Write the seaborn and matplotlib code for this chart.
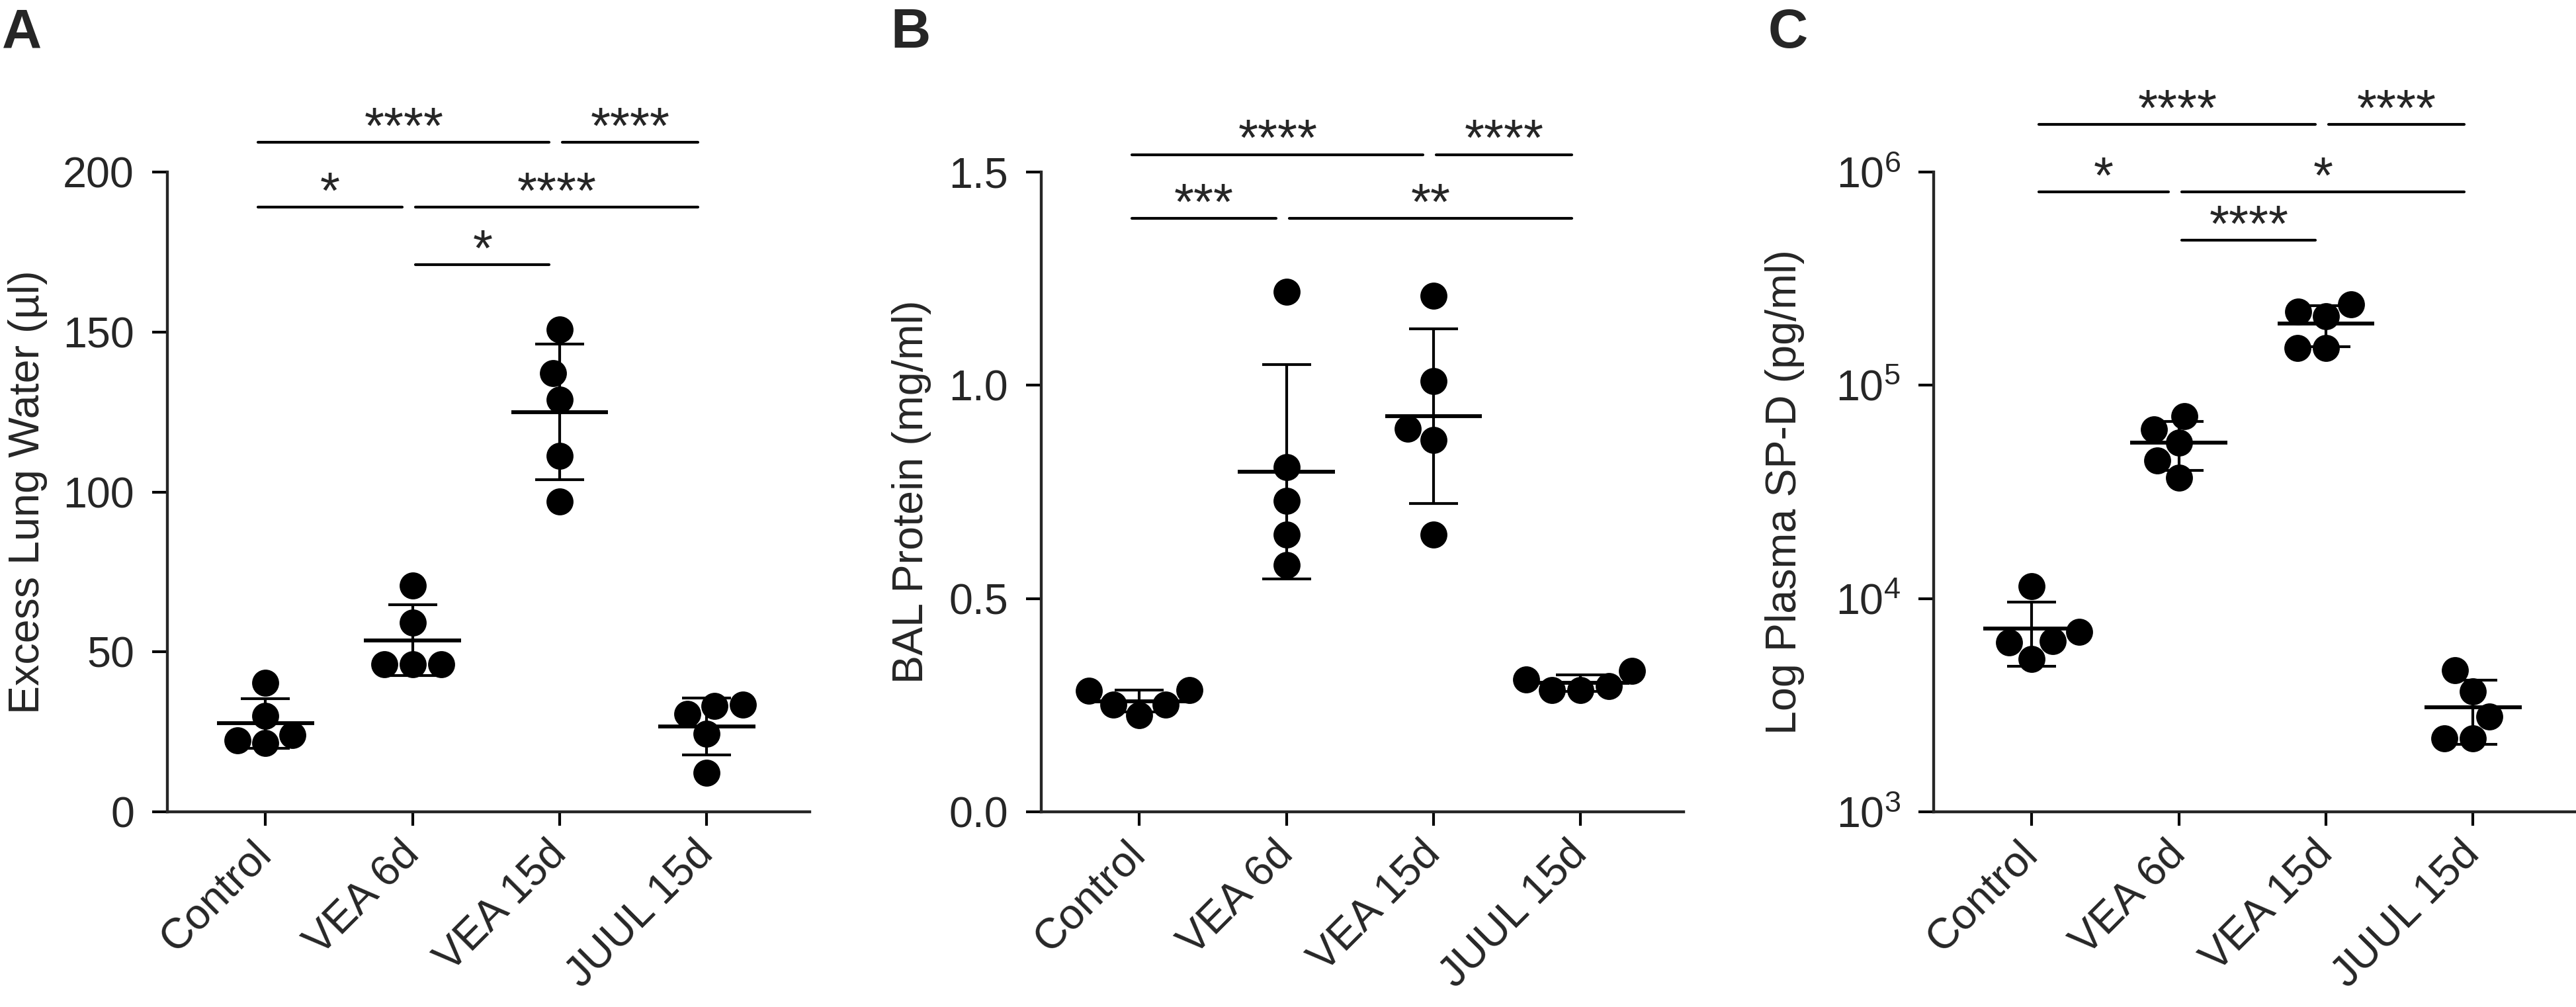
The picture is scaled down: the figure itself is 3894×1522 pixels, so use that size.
import numpy as np
import pandas as pd
import matplotlib.pyplot as plt
import seaborn as sns
from matplotlib.ticker import NullLocator

# group names shared by all three panels
groups = ['Control', 'VEA 6d', 'VEA 15d', 'JUUL 15d']

# A - excess lung water (ul), five mice per group
water_control = [30.0, 40.3, 21.5, 24.0, 22.3]
water_vea6 = [70.8, 59.2, 46.1, 46.1, 46.1]
water_vea15 = [150.7, 137.1, 128.9, 111.2, 96.9]
water_juul = [33.1, 33.5, 30.6, 24.4, 12.2]

# B - BAL protein (mg/ml)
protein_control = [0.284, 0.286, 0.251, 0.251, 0.227]
protein_vea6 = [1.22, 0.808, 0.729, 0.650, 0.579]
protein_vea15 = [1.21, 1.01, 0.898, 0.871, 0.650]
protein_juul = [0.286, 0.331, 0.295, 0.311, 0.286]

# C - plasma SP-D (pg/ml)
spd_control = [11400, 7000, 6310, 6210, 5200]
spd_vea6 = [71900, 54000, 36800, 62100, 44400]
spd_vea15 = [221500, 239700, 210400, 149600, 149600]
spd_juul = [4610, 3680, 2800, 2210, 2210]

# significance comparisons (group i, group j, label)
water_comps = [(0, 2, '****'), (2, 3, '****'), (0, 1, '*'), (1, 3, '****'), (1, 2, '*')]
protein_comps = [(0, 2, '****'), (2, 3, '****'), (0, 1, '***'), (1, 3, '**')]
spd_comps = [(0, 2, '****'), (2, 3, '****'), (0, 1, '*'), (1, 3, '*'), (1, 2, '****')]

sns.set_style('ticks')
plt.rcParams['font.family'] = ['Liberation Sans', 'DejaVu Sans']
plt.rcParams['mathtext.default'] = 'regular'
plt.rcParams['axes.linewidth'] = 1.05

W, H = 3895, 1522
fig = plt.figure(figsize=(W / 300, H / 300), dpi=300)


def make_axes(left_px):
    return fig.add_axes([left_px / W, (H - 1227) / H, 971 / W, 967 / H])


def draw_panel(ax, values, ylabel, comps, levels, ylim, log=False, lpad=-0.05, label_x=-0.186):
    df = pd.DataFrame({'group': np.repeat(groups, [len(v) for v in values]),
                       'value': np.concatenate(values)})
    if log:
        ax.set_yscale('log')
    sns.swarmplot(data=df, x='group', y='value', order=groups, color='black',
                  size=9.8, linewidth=0, ax=ax, zorder=3, warn_thresh=1.0)

    # mean +/- SD
    x = np.arange(len(groups))
    means = np.array([np.mean(v) for v in values])
    sds = np.array([np.std(v, ddof=1) for v in values])
    ax.hlines(means, x - 0.33, x + 0.33, color='black', lw=1.4, zorder=4)
    ax.vlines(x, means - sds, means + sds, color='black', lw=1.0, zorder=4)
    ax.hlines(means + sds, x - 0.167, x + 0.167, color='black', lw=1.0, zorder=4)
    ax.hlines(means - sds, x - 0.167, x + 0.167, color='black', lw=1.0, zorder=4)

    ax.set_xlim(-0.667, 3.70)
    ax.set_ylim(*ylim)
    if log:
        ax.yaxis.set_minor_locator(NullLocator())
    sns.despine(ax=ax)

    ax.set_xticks(x)
    ax.set_xticklabels(groups, rotation=45, ha='right', va='center', rotation_mode='anchor')
    ax.set_xlabel('')
    ax.set_ylabel(ylabel, fontsize=15.5)
    ax.yaxis.set_label_coords(label_x, 0.5)
    ax.tick_params(axis='y', length=5.5, width=1.0, pad=6.5, labelsize=15.5, color='black')
    ax.tick_params(axis='x', length=5.0, width=1.0, pad=8, labelsize=15.5, color='black')

    # significance brackets
    for (i, j, txt), y in zip(comps, levels):
        left = i + (lpad if i == 0 else 0.02)
        right = j - (0.07 if j < 3 else 0.06)
        ax.plot([left, right], [y, y], color='black', lw=1.0, clip_on=False)
        ax.annotate(txt, xy=((left + right) / 2, y), xytext=(0, -0.3),
                    textcoords='offset points', ha='center', va='baseline',
                    fontsize=18.5, annotation_clip=False)


ax_a = make_axes(253)
draw_panel(ax_a, [water_control, water_vea6, water_vea15, water_juul],
           'Excess Lung Water (µl)', water_comps,
           [209.3, 209.3, 189, 189, 171], (0, 200), label_x=-0.186)
ax_a.set_yticks([0, 50, 100, 150, 200])

ax_b = make_axes(1574)
draw_panel(ax_b, [protein_control, protein_vea6, protein_vea15, protein_juul],
           'BAL Protein (mg/ml)', protein_comps,
           [1.541, 1.541, 1.391, 1.391], (0, 1.5), label_x=-0.171)
ax_b.set_yticks([0.0, 0.5, 1.0, 1.5])
ax_b.set_yticklabels(['0.0', '0.5', '1.0', '1.5'])

ax_c = make_axes(2923)
draw_panel(ax_c, [spd_control, spd_vea6, spd_vea15, spd_juul],
           'Log Plasma SP-D (pg/ml)', spd_comps,
           [10 ** 6.222, 10 ** 6.222, 10 ** 5.907, 10 ** 5.907, 10 ** 5.680],
           (1e3, 1e6), log=True, lpad=0.05, label_x=-0.201)

# panel letters
for letter, xpx in [('A', 3), ('B', 1346), ('C', 2673)]:
    fig.text(xpx / W, 1 - 72 / H, letter, fontsize=20, fontweight='bold', va='baseline')

fig.savefig('out.png', dpi=300)
